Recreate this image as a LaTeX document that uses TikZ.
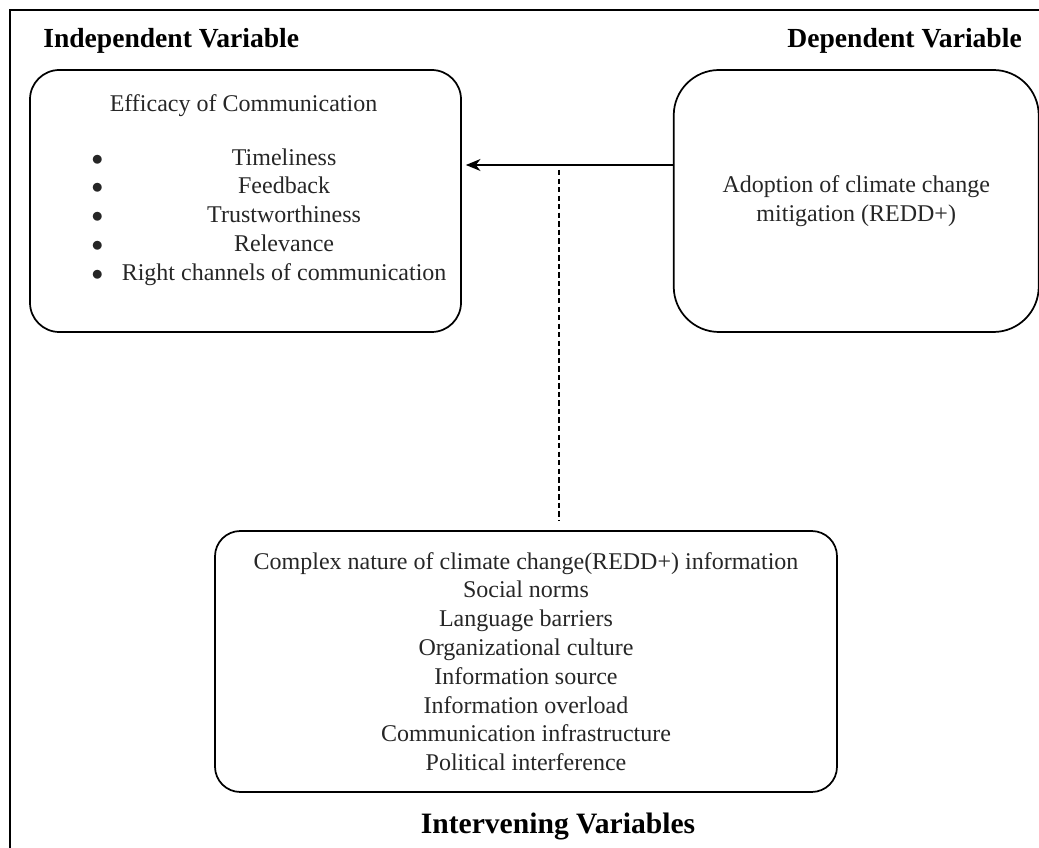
\documentclass[tikz,border=0pt]{standalone}
\usepackage{fontspec}
\setmainfont{Liberation Serif}
\usetikzlibrary{shapes, arrows.meta, positioning}
\tikzstyle{varbox} = [rectangle, draw, line width=1.3pt, align=center, minimum height=196.5pt, text=black!85, font=\fontsize{18}{21.6}\selectfont]
\tikzstyle{boxtext} = [inner sep=0pt, text=black!85, font=\fontsize{18}{21.6}\selectfont]
\tikzstyle{heading} = [inner sep=0pt, anchor=base west, font=\fontsize{20.7}{24}\selectfont\bfseries]
\tikzstyle{arrow} = [line width=1.1pt,->,>={Stealth[length=11pt, width=9pt, inset=3.5pt]}]
\tikzstyle{dashline} = [line width=1pt, dash pattern=on 4pt off 2.4pt]

\begin{document}
\begin{tikzpicture}[x=0.75pt, y=-0.75pt, node distance=158.25pt]
    \useasboundingbox (0,0) rectangle (1039,848);
    \draw[line width=0.8pt] (10,848) -- (10,10) -- (1039,10);
    \node(indep)[varbox, minimum width=323.25pt, rounded corners=22pt] at (245.5,201) {};
    \node(dep)[varbox, minimum width=273.75pt, rounded corners=34pt, right=of indep]{Adoption of climate change\\mitigation (REDD+)};
    \node(inter)[varbox, minimum width=466.5pt, minimum height=195.75pt, rounded corners=19pt] at (526,661.5){Complex nature of climate change(REDD+) information\\Social norms\\Language barriers\\Organizational culture\\Information source\\Information overload\\Communication infrastructure\\Political interference};
    \node(efficTitle)[boxtext, anchor=base] at (243.5,112){Efficacy of Communication};
    \node(efficList)[boxtext] at (269,217){%
        \begin{tabular}{@{}c@{\hspace{14pt}}c@{}}
            $\bullet$ & Timeliness\\
            $\bullet$ & Feedback\\
            $\bullet$ & Trustworthiness\\
            $\bullet$ & Relevance\\
            $\bullet$ & Right channels of communication
        \end{tabular}};
    \node(indepLbl)[heading] at (43,48){Independent Variable};
    \node(depLbl)[heading, anchor=base east] at (1022,48){Dependent Variable};
    \node(interLbl)[heading, anchor=base, font=\fontsize{22.2}{26}\selectfont\bfseries] at (558,833){Intervening Variables};
    \coordinate (Qd) at (559,170);
    \draw [arrow] ([yshift=27pt]dep.west) -- ([yshift=27pt, xshift=3pt]indep.east);
    \draw [dashline, shorten >=6.75pt] (Qd) -- (Qd |- inter.north);
\end{tikzpicture}
\end{document}
